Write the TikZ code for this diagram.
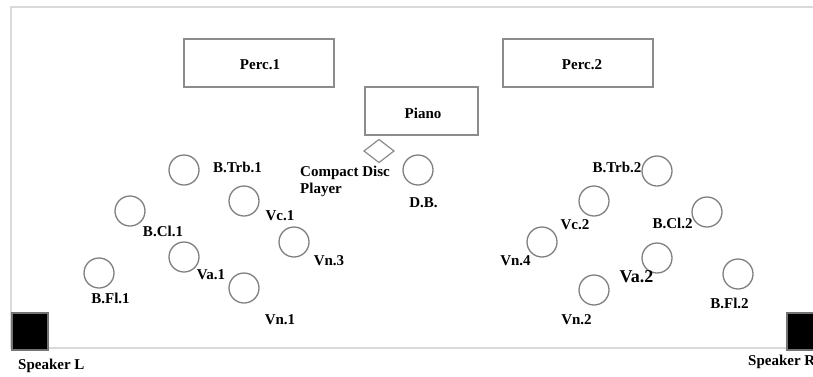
\documentclass[tikz,border=0pt]{standalone}
\usepackage{fontspec}
\setmainfont{Liberation Serif}
\begin{document}
\begin{tikzpicture}[x=1pt,y=-1pt,
  frameline/.style={draw=black!15,line width=1.5pt},
  boxline/.style={draw=black!45,line width=1.4pt},
  seat/.style={circle,draw=black!50,line width=1.3pt,minimum size=30pt,inner sep=0pt},
  lbl/.style={font=\fontsize{15}{17}\selectfont\bfseries,inner sep=0pt},
  biglbl/.style={font=\fontsize{18}{20}\selectfont\bfseries,inner sep=0pt},
  spk/.style={fill=black,draw=black!55,line width=1.2pt}]
\useasboundingbox (0,0) rectangle (813,376);
\fill[white] (0,0) rectangle (813,376);
% frame
\draw[frameline] (835,7) -- (11,7) -- (11,348) -- (835,348);
% boxes
\node[boxline,minimum width=150pt,minimum height=48pt,inner sep=0pt] (perc1) at (259,63) {};
\node[lbl] (perc1t) at (260,65) {Perc.1};
\node[boxline,minimum width=150pt,minimum height=48pt,inner sep=0pt] (perc2) at (578,63) {};
\node[lbl] (perc2t) at (582,65) {Perc.2};
\node[boxline,minimum width=113pt,minimum height=48pt,inner sep=0pt] (piano) at (421.5,111) {};
\node[lbl] (pianot) at (423,113) {Piano};
% CD player
\draw[boxline,line width=1.2pt] (364,151) -- (379,139.5) -- (394,151) -- (379,162.5) -- cycle;
\node[lbl,align=left,anchor=west,font=\fontsize{15}{17}\selectfont\bfseries] (cd) at (300,181.5) {Compact Disc\\Player};
% seats left
\node[seat] (btrb1) at (184,170) {};
\node[seat] (vc1) at (244,201) {};
\node[seat] (bcl1) at (130,211) {};
\node[seat] (vn3) at (294,242) {};
\node[seat] (va1) at (184,257) {};
\node[seat] (bfl1) at (99,273) {};
\node[seat] (vn1) at (244,288) {};
% seats right
\node[seat] (db) at (418,170) {};
\node[seat] (btrb2) at (657,171) {};
\node[seat] (vc2) at (594,201) {};
\node[seat] (bcl2) at (707,212) {};
\node[seat] (vn4) at (542,242) {};
\node[seat] (va2) at (657,258) {};
\node[seat] (bfl2) at (738,274) {};
\node[seat] (vn2) at (594,290) {};
% labels
\node[lbl] (lbtrb1) at (237.5,167) {B.Trb.1};
\node[lbl] (lvc1) at (280,216) {Vc.1};
\node[lbl] (lbcl1) at (163,231) {B.Cl.1};
\node[lbl] (lvn3) at (329,261) {Vn.3};
\node[lbl] (lva1) at (211,275) {Va.1};
\node[lbl] (lbfl1) at (110.5,298) {B.Fl.1};
\node[lbl] (lvn1) at (280,320) {Vn.1};
\node[lbl] (ldb) at (423.5,203) {D.B.};
\node[lbl] (lbtrb2) at (617,167) {B.Trb.2};
\node[lbl] (lvc2) at (575,225) {Vc.2};
\node[lbl] (lbcl2) at (672.5,223) {B.Cl.2};
\node[lbl] (lvn4) at (515.5,261) {Vn.4};
\node[biglbl] (lva2) at (636.5,277) {Va.2};
\node[lbl] (lbfl2) at (729.5,303) {B.Fl.2};
\node[lbl] (lvn2) at (576.5,320) {Vn.2};
% speakers
\draw[spk] (12,313) rectangle (48,350);
\draw[spk] (787,313) rectangle (823,350);
\node[lbl,anchor=west] (spkl) at (18,366) {Speaker L};
\node[lbl,anchor=west] (spkr) at (748,362) {Speaker R};
\end{tikzpicture}
\end{document}
